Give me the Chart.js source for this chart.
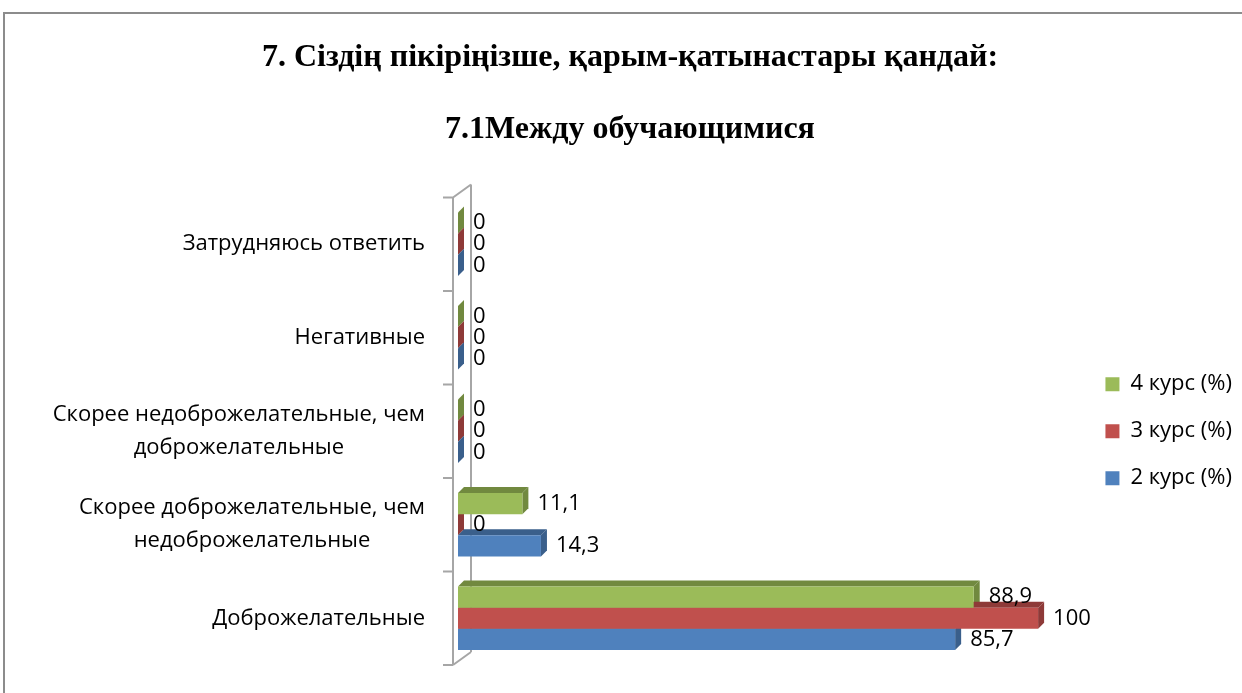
<!DOCTYPE html>
<html>
<head>
<meta charset="utf-8">
<script src="https://cdn.jsdelivr.net/npm/chart.js@4"></script>
<style>
html, body { margin: 0; padding: 0; background: #fff; }
#wrap { position: relative; width: 1242px; height: 693px; }
</style>
</head>
<body>
<div id="wrap"><canvas id="myChart"></canvas></div>
<script>
const categories = [
    'Затрудняюсь ответить',
    'Негативные',
    ['Скорее недоброжелательные, чем', 'доброжелательные'],
    ['Скорее доброжелательные, чем', 'недоброжелательные'],
    'Доброжелательные'
];
const kurs4 = [0, 0, 0, 11.1, 88.9];
const kurs3 = [0, 0, 0, 0, 100];
const kurs2 = [0, 0, 0, 14.3, 85.7];
const seriesNames = ['4 курс (%)', '3 курс (%)', '2 курс (%)'];
const titleLines = ['7. Сіздің пікіріңізше, қарым-қатынастары қандай:', '', '7.1Между обучающимися'];

const faceColors = ['#9BBB59', '#C0504D', '#4F81BD'];
const sideColors = ['#71893F', '#8E3A38', '#3A5F8B'];
const labelFont = '22px "Open Sans"';
const depth = 6;

// frame around the whole chart
const framePlugin = {
    id: 'frame',
    beforeDraw(chart) {
        const c = chart.ctx;
        c.save();
        c.fillStyle = '#fff';
        c.fillRect(0, 0, chart.width, chart.height);
        c.strokeStyle = '#8c8c8c';
        c.lineWidth = 2;
        c.strokeRect(4, 13, chart.width + 20, chart.height + 20);
        c.restore();
    }
};

// back wall, category ticks, 3d sides of bars
const wallPlugin = {
    id: 'wall',
    beforeDatasetsDraw(chart) {
        const c = chart.ctx;
        const a = chart.chartArea;
        const y = chart.scales.y;
        const fx = a.left - 5, bx = a.left + 13;
        c.save();
        c.strokeStyle = '#a6a6a6';
        c.lineWidth = 2;
        c.beginPath();
        c.moveTo(fx, a.top); c.lineTo(fx, a.bottom);
        c.moveTo(bx, a.top - 13); c.lineTo(bx, a.bottom - 13);
        c.moveTo(fx, a.top); c.lineTo(bx, a.top - 13);
        c.moveTo(fx, a.bottom); c.lineTo(bx, a.bottom - 13);
        for (let i = 0; i <= categories.length; i++) {
            const py = y.getPixelForValue(i - 0.5);
            c.moveTo(fx - 10, py); c.lineTo(fx, py);
        }
        c.stroke();

        chart.data.datasets.forEach((ds, di) => {
            const meta = chart.getDatasetMeta(di);
            meta.data.forEach(bar => {
                const top = bar.y - bar.height / 2;
                const bottom = bar.y + bar.height / 2;
                c.fillStyle = sideColors[di];
                c.beginPath();
                c.moveTo(bar.base, top);
                c.lineTo(bar.x, top);
                c.lineTo(bar.x + depth, top - depth);
                c.lineTo(bar.base + depth, top - depth);
                c.closePath();
                c.fill();
                c.beginPath();
                c.moveTo(bar.x, top);
                c.lineTo(bar.x + depth, top - depth);
                c.lineTo(bar.x + depth, bottom - depth);
                c.lineTo(bar.x, bottom);
                c.closePath();
                c.fill();
            });
        });
        c.restore();
    }
};

// category labels and value labels
const textPlugin = {
    id: 'texts',
    afterDatasetsDraw(chart) {
        const c = chart.ctx;
        const y = chart.scales.y;
        c.save();
        c.font = labelFont;
        c.fillStyle = '#000';
        c.textBaseline = 'middle';

        categories.forEach((lab, i) => {
            const lines = Array.isArray(lab) ? lab : [lab];
            const w = Math.max(...lines.map(l => c.measureText(l).width));
            const cx = 425 - w / 2;
            const cy = y.getPixelForValue(i);
            const lh = 33;
            c.textAlign = 'center';
            lines.forEach((l, k) => {
                c.fillText(l, cx, cy + (k - (lines.length - 1) / 2) * lh);
            });
        });

        c.textAlign = 'left';
        chart.data.datasets.forEach((ds, di) => {
            const meta = chart.getDatasetMeta(di);
            meta.data.forEach((bar, i) => {
                const txt = String(ds.data[i]).replace('.', ',');
                c.fillText(txt, bar.x + 15, bar.y);
            });
        });
        c.restore();
    }
};

const ctx = document.getElementById('myChart').getContext('2d');
const myChart = new Chart(ctx, {
    type: 'bar',
    data: {
        labels: categories,
        datasets: [
            { label: seriesNames[0], data: kurs4, backgroundColor: faceColors[0] },
            { label: seriesNames[1], data: kurs3, backgroundColor: faceColors[1] },
            { label: seriesNames[2], data: kurs2, backgroundColor: faceColors[2] }
        ]
    },
    options: {
        indexAxis: 'y',
        responsive: true,
        maintainAspectRatio: false,
        animation: false,
        layout: { padding: { left: 18, right: 0, top: 0, bottom: 28 } },
        datasets: { bar: { barPercentage: 1, categoryPercentage: 0.68 } },
        scales: {
            x: { display: false, min: 0, max: 107.3 },
            y: {
                grid: { display: false },
                border: { display: false },
                ticks: { display: false },
                afterFit(scale) { scale.width = 440; }
            }
        },
        plugins: {
            title: {
                display: true,
                text: titleLines,
                color: '#000',
                font: { family: '"Liberation Serif", "Times New Roman", serif', size: 32, weight: 'bold', lineHeight: 1.14 },
                padding: { top: 39, bottom: 49 }
            },
            legend: {
                position: 'right',
                fullSize: false,
                labels: {
                    color: '#000',
                    font: { family: '"Open Sans"', size: 22 },
                    boxWidth: 14,
                    boxHeight: 14,
                    padding: 25
                }
            },
            tooltip: { enabled: false }
        }
    },
    plugins: [framePlugin, wallPlugin, textPlugin]
});
</script>
</body>
</html>
